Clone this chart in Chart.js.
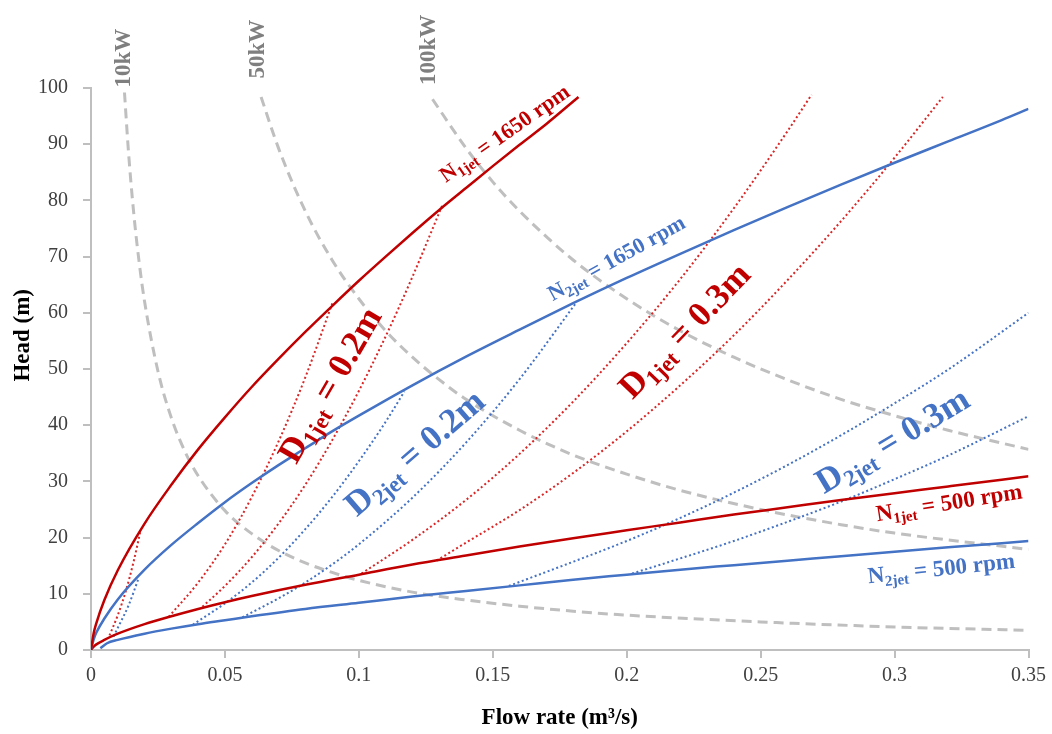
<!DOCTYPE html>
<html>
<head>
<meta charset="utf-8">
<script src="https://cdn.jsdelivr.net/npm/chart.js"></script>
<style>
  body { margin: 0; background: #fff; }
  #contenitore { width: 1052px; height: 734px; }
</style>
</head>
<body>
<div id="contenitore"><canvas id="grafico-turbina"></canvas></div>
<script>
// curve portata Q (m3/s) - salto H (m), coppie [Q, H]

var tickX = ['0', '0.05', '0.1', '0.15', '0.2', '0.25', '0.3', '0.35'];
var tickY = ['0', '10', '20', '30', '40', '50', '60', '70', '80', '90', '100'];

// giri costanti
var n1_1650 = [[0, 0], [0.001, 3.0], [0.002, 4.8], [0.005, 8.9], [0.01, 14.2], [0.02, 22.5], [0.03, 29.4], [0.04, 35.7], [0.05, 41.4], [0.06, 46.8], [0.07, 51.8], [0.08, 56.6], [0.09, 61.2], [0.1, 65.7], [0.11, 70.0], [0.12, 74.2], [0.13, 78.3], [0.14, 82.2], [0.15, 86.1], [0.16, 89.9], [0.17, 93.6], [0.182, 98.4]];
var n2_1650 = [[0, 0], [0.001, 1.9], [0.002, 3.1], [0.005, 5.6], [0.01, 9.0], [0.02, 14.3], [0.03, 18.7], [0.04, 22.6], [0.05, 26.3], [0.06, 29.7], [0.07, 32.9], [0.08, 35.9], [0.09, 38.9], [0.1, 41.7], [0.12, 47.1], [0.14, 52.2], [0.16, 57.0], [0.18, 61.7], [0.2, 66.2], [0.22, 70.5], [0.24, 74.7], [0.26, 78.8], [0.28, 82.8], [0.3, 86.7], [0.32, 90.5], [0.34, 94.3], [0.35, 96.3]];
var n1_500 = [[0, 0], [0.001, 0.6], [0.002, 1.0], [0.005, 1.8], [0.01, 2.9], [0.02, 4.6], [0.03, 6.0], [0.04, 7.3], [0.05, 8.5], [0.06, 9.6], [0.08, 11.6], [0.1, 13.4], [0.12, 15.2], [0.14, 16.8], [0.16, 18.4], [0.18, 19.9], [0.2, 21.3], [0.22, 22.7], [0.24, 24.1], [0.26, 25.4], [0.28, 26.7], [0.3, 27.9], [0.32, 29.1], [0.34, 30.3], [0.35, 30.9]];
var n2_500 = [[0.0035, 0.3], [0.006, 1.2], [0.01, 1.8], [0.02, 2.9], [0.03, 3.8], [0.04, 4.6], [0.05, 5.3], [0.06, 6.0], [0.08, 7.3], [0.1, 8.4], [0.12, 9.5], [0.14, 10.5], [0.16, 11.5], [0.18, 12.5], [0.2, 13.4], [0.22, 14.3], [0.24, 15.1], [0.26, 15.9], [0.28, 16.7], [0.3, 17.5], [0.32, 18.3], [0.34, 19.0], [0.35, 19.4]];

// potenza costante
var p10kw = [[0.0125, 99.2], [0.014, 88.6], [0.016, 77.5], [0.018, 68.9], [0.02, 62.0], [0.025, 49.6], [0.03, 41.3], [0.035, 35.4], [0.04, 31.0], [0.05, 24.8], [0.06, 20.7], [0.07, 17.7], [0.08, 15.5], [0.09, 13.8], [0.1, 12.4], [0.12, 10.3], [0.14, 8.9], [0.16, 7.8], [0.18, 6.9], [0.2, 6.2], [0.25, 5.0], [0.3, 4.1], [0.35, 3.5]];
var p50kw = [[0.0635, 98.4], [0.07, 89.3], [0.08, 78.1], [0.09, 69.4], [0.1, 62.5], [0.11, 56.8], [0.12, 52.1], [0.13, 48.1], [0.14, 44.6], [0.16, 39.1], [0.18, 34.7], [0.2, 31.3], [0.22, 28.4], [0.25, 25.0], [0.28, 22.3], [0.3, 20.8], [0.35, 17.9]];
var p100kw = [[0.1275, 98.0], [0.14, 89.3], [0.15, 83.3], [0.16, 78.1], [0.18, 69.4], [0.2, 62.5], [0.22, 56.8], [0.24, 52.1], [0.26, 48.1], [0.28, 44.6], [0.3, 41.7], [0.32, 39.1], [0.35, 35.7]];

// diametro getto, turbina 1
var d1_a = [[0.0069, 2.6], [0.01, 6.2], [0.013, 10.5], [0.016, 15.9], [0.0185, 21.3]];
var d1_02a = [[0.029, 5.9], [0.04, 12.0], [0.05, 18.8], [0.06, 27.2], [0.07, 37.1], [0.08, 48.5], [0.0901, 61.7]];
var d1_02b = [[0.0416, 7.7], [0.05, 11.4], [0.06, 16.5], [0.07, 22.5], [0.08, 29.4], [0.09, 37.3], [0.1, 46.1], [0.11, 55.8], [0.12, 66.4], [0.1312, 79.2]];
var d1_03a = [[0.101, 13.6], [0.12, 19.6], [0.14, 26.7], [0.16, 34.9], [0.18, 44.2], [0.2, 54.6], [0.22, 66.0], [0.24, 78.6], [0.26, 92.3], [0.269, 98.8]];
var d1_03b = [[0.129, 15.9], [0.14, 19.1], [0.16, 24.9], [0.18, 31.5], [0.2, 38.9], [0.22, 47.1], [0.24, 56.0], [0.26, 65.8], [0.28, 76.3], [0.3, 87.6], [0.318, 98.4]];

// diametro getto, turbina 2
var d2_a = [[0.0084, 2.4], [0.011, 4.9], [0.014, 7.9], [0.0178, 12.8]];
var d2_02a = [[0.038, 4.5], [0.05, 8.3], [0.06, 12.0], [0.07, 16.4], [0.08, 21.5], [0.09, 27.2], [0.1, 33.6], [0.11, 40.6], [0.117, 46.0]];
var d2_02b = [[0.0565, 5.8], [0.07, 9.2], [0.08, 12.0], [0.09, 15.2], [0.1, 18.8], [0.12, 27.1], [0.14, 36.9], [0.16, 48.2], [0.181, 61.7]];
var d2_03a = [[0.156, 11.4], [0.18, 15.7], [0.2, 19.4], [0.22, 23.5], [0.24, 28.0], [0.26, 32.9], [0.28, 38.2], [0.3, 43.9], [0.32, 49.9], [0.35, 60.0]];
var d2_03b = [[0.202, 13.6], [0.22, 16.3], [0.24, 19.4], [0.26, 22.8], [0.28, 26.4], [0.3, 30.4], [0.32, 34.6], [0.35, 41.6]];

var rosso = '#c00000';
var rossoPunti = '#d92626';
var blu = '#4472c4';
var grigio = '#bfbfbf';
var font = '"Liberation Serif", "Times New Roman", serif';

// scritte sul grafico: [testo, pedice]
var etichette = [
    { parts: [['10kW', 0]], x: 0.0118, y: 105.3, angle: -90, size: 23, color: '#7f7f7f' },
    { parts: [['50kW', 0]], x: 0.0617, y: 106.9, angle: -90, size: 23, color: '#7f7f7f' },
    { parts: [['100kW', 0]], x: 0.1256, y: 106.8, angle: -90, size: 23, color: '#7f7f7f' },
    { parts: [['N', 0], ['1jet', 1], [' = 1650 rpm', 0]], x: 0.1543, y: 92.0, angle: -35, size: 22, color: rosso },
    { parts: [['N', 0], ['2jet', 1], [' = 1650 rpm', 0]], x: 0.1961, y: 69.8, angle: -29, size: 22, color: blu },
    { parts: [['D', 0], ['1jet', 1], [' = 0.2m', 0]], x: 0.0890, y: 47.2, angle: -60, size: 35, color: rosso },
    { parts: [['D', 0], ['2jet', 1], [' = 0.2m', 0]], x: 0.1207, y: 35.2, angle: -41, size: 35, color: blu },
    { parts: [['D', 0], ['1jet', 1], [' = 0.3m', 0]], x: 0.2214, y: 56.9, angle: -46, size: 35, color: rosso },
    { parts: [['D', 0], ['2jet', 1], [' = 0.3m', 0]], x: 0.2991, y: 37.4, angle: -31, size: 35, color: blu },
    { parts: [['N', 0], ['1jet', 1], [' = 500 rpm', 0]], x: 0.3203, y: 26.3, angle: -9, size: 23, color: rosso },
    { parts: [['N', 0], ['2jet', 1], [' = 500 rpm', 0]], x: 0.3174, y: 14.6, angle: -6, size: 23, color: blu }
];

function serie(punti, colore, spessore, tratteggio) {
    return {
        data: punti.map(function (p) { return { x: p[0], y: p[1] }; }),
        borderColor: colore,
        borderWidth: spessore,
        borderDash: tratteggio || [],
        borderCapStyle: 'butt',
        pointRadius: 0,
        showLine: true,
        fill: false,
        cubicInterpolationMode: 'monotone'
    };
}

var puntini = [2, 2.6];
var trattini = [10, 6];

var dataset = [
    serie(n1_1650, rosso, 2.5),
    serie(n2_1650, blu, 2.5),
    serie(n1_500, rosso, 2.5),
    serie(n2_500, blu, 2.5),
    serie(d1_a, rossoPunti, 2, puntini),
    serie(d1_02a, rossoPunti, 2, puntini),
    serie(d1_02b, rossoPunti, 2, puntini),
    serie(d1_03a, rossoPunti, 2, puntini),
    serie(d1_03b, rossoPunti, 2, puntini),
    serie(d2_a, blu, 2, puntini),
    serie(d2_02a, blu, 2, puntini),
    serie(d2_02b, blu, 2, puntini),
    serie(d2_03a, blu, 2, puntini),
    serie(d2_03b, blu, 2, puntini),
    serie(p10kw, grigio, 3, trattini),
    serie(p50kw, grigio, 3, trattini),
    serie(p100kw, grigio, 3, trattini)
];

// disegno le scritte ruotate con il pedice, e il titolo dell'asse Y
var pluginEtichette = {
    id: 'etichette',
    afterDraw: function (chart) {
        var ctx = chart.ctx;
        var sx = chart.scales.x, sy = chart.scales.y;
        etichette.forEach(function (et) {
            var px = sx.getPixelForValue(et.x);
            var py = sy.getPixelForValue(et.y);
            var fMain = 'bold ' + et.size + 'px ' + font;
            var fSub = 'bold ' + Math.round(et.size * 0.66) + 'px ' + font;
            ctx.save();
            ctx.translate(px, py);
            ctx.rotate(et.angle * Math.PI / 180);
            ctx.fillStyle = et.color;
            ctx.textBaseline = 'alphabetic';
            ctx.textAlign = 'left';
            var larghezza = 0;
            et.parts.forEach(function (p) {
                ctx.font = p[1] ? fSub : fMain;
                larghezza += ctx.measureText(p[0]).width;
            });
            var cx = -larghezza / 2;
            var base = et.size * 0.33;
            et.parts.forEach(function (p) {
                ctx.font = p[1] ? fSub : fMain;
                ctx.fillText(p[0], cx, base + (p[1] ? et.size * 0.2 : 0));
                cx += ctx.measureText(p[0]).width;
            });
            ctx.restore();
        });

        // titolo asse Y un po' sopra il centro
        ctx.save();
        ctx.translate(23, sy.getPixelForValue(56));
        ctx.rotate(-Math.PI / 2);
        ctx.font = 'bold 23px ' + font;
        ctx.fillStyle = '#000';
        ctx.textAlign = 'center';
        ctx.textBaseline = 'middle';
        ctx.fillText('Head (m)', 0, 0);
        ctx.restore();
    }
};

var ctx = document.getElementById('grafico-turbina').getContext('2d');
var chart = new Chart(ctx, {
    type: 'scatter',
    data: { datasets: dataset },
    plugins: [pluginEtichette],
    options: {
        responsive: true,
        maintainAspectRatio: false,
        animation: false,
        layout: { padding: { top: 88, right: 23, left: 0, bottom: 0 } },
        plugins: { legend: { display: false }, tooltip: { enabled: false } },
        scales: {
            x: {
                type: 'linear',
                min: 0,
                max: 0.35,
                afterFit: function (scale) { scale.height = 84; },
                afterBuildTicks: function (scale) {
                    scale.ticks = tickX.map(function (t) { return { value: parseFloat(t) }; });
                },
                ticks: {
                    color: '#404040',
                    padding: 6,
                    maxRotation: 0,
                    font: { family: font, size: 20 },
                    callback: function (v, i) { return tickX[i]; }
                },
                grid: { drawOnChartArea: false, drawTicks: true, tickLength: 8, color: grigio, lineWidth: 2 },
                border: { display: true, color: grigio, width: 2 },
                title: {
                    display: true,
                    text: 'Flow rate (m³/s)',
                    color: '#000',
                    padding: { top: 0, bottom: 2 },
                    font: { family: font, size: 23, weight: 'bold' }
                }
            },
            y: {
                type: 'linear',
                min: 0,
                max: 100,
                afterFit: function (scale) { scale.width = 91; },
                afterBuildTicks: function (scale) {
                    scale.ticks = tickY.map(function (t) { return { value: parseFloat(t) }; });
                },
                ticks: {
                    color: '#404040',
                    padding: 15,
                    font: { family: font, size: 20 },
                    callback: function (v, i) { return tickY[i]; }
                },
                grid: { drawOnChartArea: false, drawTicks: true, tickLength: 8, color: grigio, lineWidth: 2 },
                border: { display: true, color: grigio, width: 2 },
                title: { display: false }
            }
        }
    }
});
</script>
</body>
</html>
